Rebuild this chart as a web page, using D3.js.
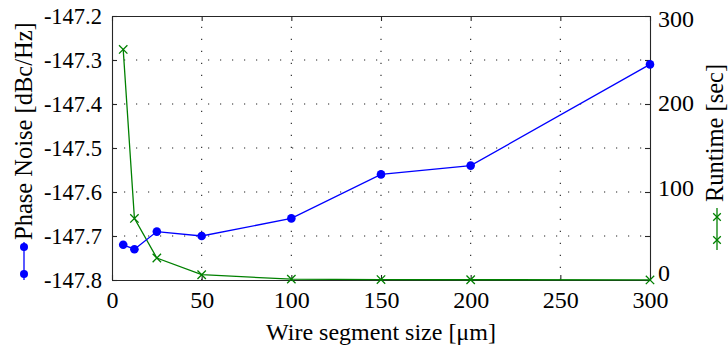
<!DOCTYPE html>
<html>
<head>
<meta charset="utf-8">
<script src="https://cdn.jsdelivr.net/npm/d3@7"></script>
<style>
  html, body { margin: 0; padding: 0; background: #fff; }
</style>
</head>
<body>
<svg id="chart" width="728" height="349"></svg>
<script>
// Wire segment size sweep: phase noise (left axis) and runtime (right axis)
const segmentSizes = [6.25, 12.5, 25, 50, 100, 150, 200, 300];
const phaseNoise   = [-147.72, -147.73, -147.69, -147.70, -147.66, -147.56, -147.54, -147.31];
const runtimeSec   = [262, 70, 25, 6, 1, 0.5, 0.3, 0.1];

const xTicks      = [0, 50, 100, 150, 200, 250, 300];
const leftTicks   = [-147.8, -147.7, -147.6, -147.5, -147.4, -147.3, -147.2];
const rightTicks  = [0, 100, 200, 300];

const xLabel     = "Wire segment size [\u03bcm]";
const leftLabel  = "Phase Noise [dBc/Hz]";
const rightLabel = "Runtime [sec]";

const FONT = "Liberation Serif";
const BLUE = "#0000ff", GREEN = "#008000";
const box = { left: 112, right: 650, top: 16, bottom: 280 };

const svg = d3.select("#chart").attr("font-family", FONT);

const x  = d3.scaleLinear().domain([0, 300]).range([box.left, box.right]);
const yL = d3.scaleLinear().domain([-147.8, -147.2]).range([box.bottom, box.top]);
const yR = d3.scaleLinear().domain([0, 300]).range([box.bottom, box.top]);
// right-hand labels sit in a slightly compressed band so "0" clears the x labels
const yRLabel = d3.scaleLinear().domain([0, 300]).range([272.5, 18.5]);

// dotted grid at interior ticks
const grid = svg.append("g")
  .attr("stroke", "#222").attr("stroke-width", 1.1).attr("stroke-dasharray", "1.2,10.8");
grid.selectAll("line.v").data(xTicks.slice(1, -1)).join("line")
  .attr("x1", d => x(d)).attr("x2", d => x(d))
  .attr("y1", box.bottom).attr("y2", box.top);
grid.selectAll("line.h").data(leftTicks.slice(1, -1)).join("line")
  .attr("x1", box.left).attr("x2", box.right)
  .attr("y1", d => yL(d)).attr("y2", d => yL(d));

// axes with inward ticks
function styleAxis(size) {
  return g => {
    g.attr("font-family", FONT).attr("font-size", null);
    g.select(".domain").attr("stroke", "#262626").attr("stroke-width", 1.1);
    g.selectAll(".tick line").attr("stroke", "#262626").attr("stroke-width", 1.1);
    g.selectAll(".tick text").attr("fill", "#000")
      .style("font-family", FONT).style("font-size", size + "px");
  };
}

svg.append("g")
  .attr("transform", `translate(0,${box.bottom})`)
  .call(d3.axisBottom(x).tickValues(xTicks).tickSizeInner(-5).tickSizeOuter(0).tickPadding(11))
  .call(styleAxis(24))
  .call(g => g.selectAll(".tick text").attr("dy", "0.71em"));

svg.append("g")
  .attr("transform", `translate(0,${box.top})`)
  .call(d3.axisTop(x).tickValues(xTicks).tickSizeInner(-5).tickSizeOuter(0).tickFormat(""))
  .call(styleAxis(24));

svg.append("g")
  .attr("transform", `translate(${box.left},0)`)
  .call(d3.axisLeft(yL).tickValues(leftTicks).tickSizeInner(-5).tickSizeOuter(0)
        .tickPadding(10).tickFormat(d => d.toFixed(1)))
  .call(styleAxis(22.5));

svg.append("g")
  .attr("transform", `translate(${box.right},0)`)
  .call(d3.axisRight(yR).tickValues(rightTicks).tickSizeInner(0).tickSizeOuter(0).tickPadding(8))
  .call(styleAxis(24))
  .call(g => g.selectAll(".tick text").attr("y", d => yRLabel(d) - yR(d)));

// left-axis ticks mirrored on the right edge
svg.append("g")
  .attr("transform", `translate(${box.right},0)`)
  .call(d3.axisRight(yL).tickValues(leftTicks).tickSizeInner(-5).tickSizeOuter(0).tickFormat(""))
  .call(g => g.select(".domain").remove())
  .call(g => g.selectAll(".tick line").attr("stroke", "#262626").attr("stroke-width", 1.1));

// axis titles
svg.append("text")
  .attr("x", (box.left + box.right) / 2).attr("y", 340)
  .attr("text-anchor", "middle").style("font-family", FONT).style("font-size", "24px")
  .text(xLabel);

svg.append("text")
  .attr("transform", "translate(32,240) rotate(-90)")
  .attr("text-anchor", "start").style("font-family", FONT).style("font-size", "24.5px")
  .text(leftLabel);

svg.append("text")
  .attr("transform", "translate(723,202) rotate(-90)")
  .attr("text-anchor", "start").style("font-family", FONT).style("font-size", "24.5px")
  .text(rightLabel);

// legend samples beside the titles
const blueKey = svg.append("g");
blueKey.append("line").attr("x1", 24).attr("x2", 24).attr("y1", 242).attr("y2", 280)
  .attr("stroke", BLUE).attr("stroke-width", 1.3);
blueKey.selectAll("circle").data([247, 274]).join("circle")
  .attr("cx", 24).attr("cy", d => d).attr("r", 4).attr("fill", BLUE);

const xMark = (s) => `M${-s},${-s}L${s},${s}M${-s},${s}L${s},${-s}`;
const greenKey = svg.append("g");
greenKey.append("line").attr("x1", 717).attr("x2", 717).attr("y1", 208).attr("y2", 250)
  .attr("stroke", GREEN).attr("stroke-width", 1.3);
greenKey.selectAll("path").data([217, 240]).join("path")
  .attr("transform", d => `translate(717,${d})`).attr("d", xMark(3.8))
  .attr("stroke", GREEN).attr("stroke-width", 1.3).attr("fill", "none");

// runtime series
const runtimeLine = d3.line().x((d, i) => x(segmentSizes[i])).y(d => yR(d));
svg.append("path").datum(runtimeSec)
  .attr("d", runtimeLine).attr("fill", "none")
  .attr("stroke", GREEN).attr("stroke-width", 1.3);
svg.append("g").selectAll("path").data(runtimeSec).join("path")
  .attr("transform", (d, i) => `translate(${x(segmentSizes[i])},${yR(d)})`)
  .attr("d", xMark(4.2)).attr("stroke", GREEN).attr("stroke-width", 1.3).attr("fill", "none");

// phase noise series
const noiseLine = d3.line().x((d, i) => x(segmentSizes[i])).y(d => yL(d));
svg.append("path").datum(phaseNoise)
  .attr("d", noiseLine).attr("fill", "none")
  .attr("stroke", BLUE).attr("stroke-width", 1.3);
svg.append("g").selectAll("circle").data(phaseNoise).join("circle")
  .attr("cx", (d, i) => x(segmentSizes[i])).attr("cy", d => yL(d))
  .attr("r", 4.3).attr("fill", BLUE);
</script>
</body>
</html>
